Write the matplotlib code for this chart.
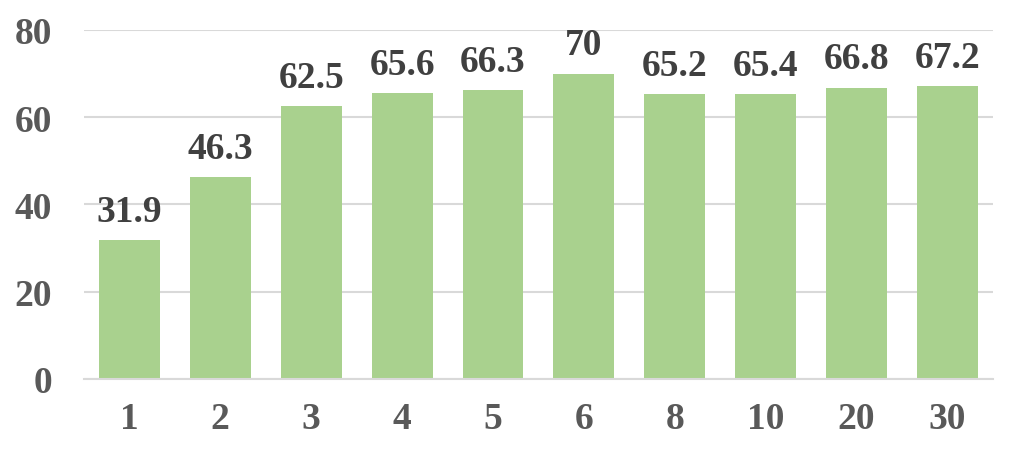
import matplotlib.pyplot as plt
import numpy as np

categories = ["1", "2", "3", "4", "5", "6", "8", "10", "20", "30"]
values = [31.9, 46.3, 62.5, 65.6, 66.3, 70, 65.2, 65.4, 66.8, 67.2]
value_labels = ["31.9", "46.3", "62.5", "65.6", "66.3", "70", "65.2", "65.4", "66.8", "67.2"]
y_ticks = [0, 20, 40, 60, 80]

plt.rcParams["font.family"] = ["Liberation Serif", "DejaVu Serif"]

fig = plt.figure(figsize=(10.12, 4.56), dpi=100)
ax = fig.add_axes([0.083, 0.1667, 0.898, 0.7655])

x = np.arange(len(categories))
ax.bar(x, values, width=0.67, color="#A9D18E", zorder=2)

for xi, v, lab in zip(x, values, value_labels):
    ax.annotate(lab, (xi, v), xytext=(0, 8), textcoords="offset points",
                ha="center", va="bottom", fontsize=27, fontweight="bold",
                color="#404040")

ax.set_xlim(-0.5, len(categories) - 0.5)
ax.set_ylim(0, 80)
ax.set_yticks(y_ticks)
ax.set_xticks(x)
ax.set_xticklabels(categories)
ax.grid(True, axis="y", color="#D9D9D9", linewidth=1.5, zorder=0)
ax.set_axisbelow(True)

for side in ("top", "right", "left"):
    ax.spines[side].set_visible(False)
ax.spines["bottom"].set_color("#D9D9D9")
ax.spines["bottom"].set_linewidth(1.5)

ax.tick_params(axis="both", length=0, labelsize=27, labelcolor="#595959")
ax.tick_params(axis="y", pad=23)
ax.tick_params(axis="x", pad=16)
for lbl in ax.get_xticklabels() + ax.get_yticklabels():
    lbl.set_fontweight("bold")

fig.savefig("out.png", dpi=100)
